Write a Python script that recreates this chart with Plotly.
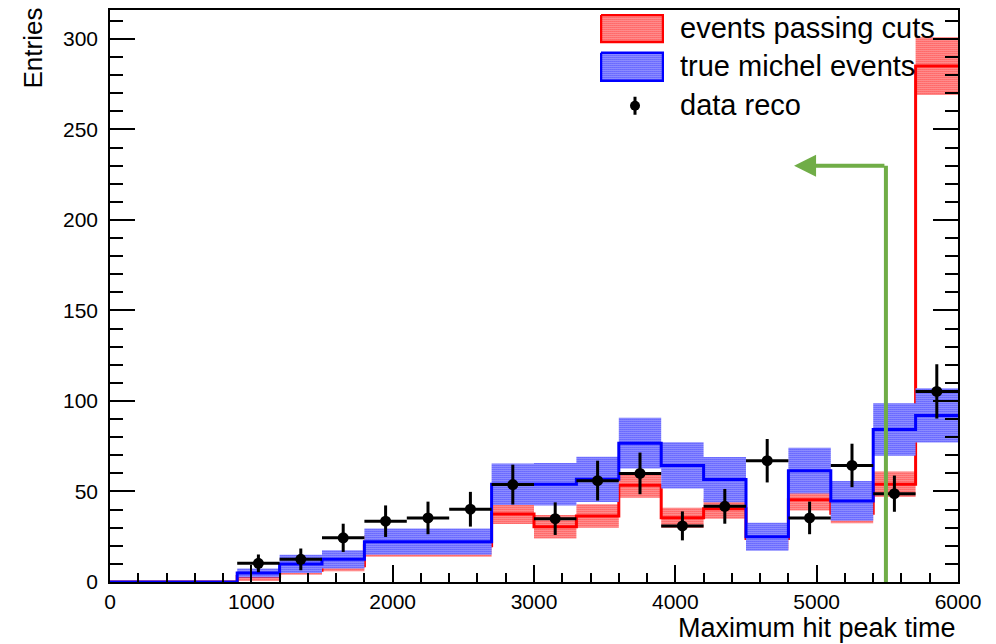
import plotly.graph_objects as go

# ---------------- data ----------------
bin_lo = [0, 300, 600, 900, 1200, 1500, 1800, 2100, 2400, 2700,
          3000, 3300, 3600, 3900, 4200, 4500, 4800, 5100, 5400, 5700]
bin_hi = [300, 600, 900, 1200, 1500, 1800, 2100, 2400, 2700, 3000,
          3300, 3600, 3900, 4200, 4500, 4800, 5100, 5400, 5700, 6000]

cuts_val = [0, 0, 0, 3, 6.5, 9, 20, 20, 20, 37.5,
            30.5, 36.5, 53.5, 35.5, 40.5, 24, 45.5, 38, 54, 285]
cuts_err = [0, 0, 0, 2.5, 2.5, 3, 6, 6, 6, 5.5,
            6.5, 6.5, 7, 5.5, 5.5, 6, 6, 5.5, 7, 16]

michel_val = [0, 0, 0, 5, 10, 12.5, 22.3, 22.3, 22.3, 54,
              54, 56.7, 76.7, 64.4, 56.6, 25, 61.5, 44.8, 84.3, 92]
michel_err = [0, 0, 0, 2.5, 5, 5, 7.3, 7.3, 7.3, 11.5,
              11.7, 12.5, 14, 12.8, 12.5, 7.8, 12.6, 11, 14.5, 15]

data_val = [None, None, None, 10.3, 12.5, 24.4, 33.6, 35.4, 40.2, 53.8,
            35, 56, 60, 31, 41.8, 67, 35.4, 64.4, 48.8, 105.3]
data_err = [None, None, None, 4.9, 6, 7.8, 8.7, 9, 9.6, 11,
            9, 11, 11.5, 8, 9.6, 12, 9, 12, 10, 15]

cut_value = 5490      # vertical cut line position
arrow_level = 230     # height of the arrow
arrow_tip = 4840      # where the arrow points

legend_labels = ["events passing cuts", "true michel events", "data reco"]

# ---------------- derived ----------------
centers = [(a + b) / 2 for a, b in zip(bin_lo, bin_hi)]
widths = [b - a for a, b in zip(bin_lo, bin_hi)]
half_w = [w / 2 for w in widths]
step_x = bin_lo + [bin_hi[-1]]

RED = "#ff0000"
BLUE = "#0000ff"
GREEN = "#70ad47"
FONT = "Liberation Sans, Arial, Helvetica, sans-serif"


def pattern(color):
    return dict(shape=".", fgcolor=color, bgcolor="white", size=2,
                solidity=0.6, fillmode="replace")


def band(vals, errs, color):
    xs, ys = [], []
    for lo, hi, v, e in zip(bin_lo, bin_hi, vals, errs):
        if e <= 0:
            continue
        xs += [lo, hi, hi, lo, lo, None]
        ys += [v - e, v - e, v + e, v + e, v - e, None]
    return go.Scatter(x=xs, y=ys, mode="none", fill="toself",
                      fillcolor="white", fillpattern=pattern(color),
                      showlegend=False, hoverinfo="skip")


def step(vals, color):
    return go.Scatter(x=step_x, y=vals + [vals[-1]], mode="lines",
                      line=dict(shape="hv", color=color, width=3),
                      showlegend=False, hoverinfo="skip")


fig = go.Figure()
fig.add_trace(band(cuts_val, cuts_err, RED))
fig.add_trace(step(cuts_val, RED))
fig.add_trace(band(michel_val, michel_err, BLUE))
fig.add_trace(step(michel_val, BLUE))
fig.add_trace(go.Scatter(
    x=centers, y=data_val, mode="markers",
    marker=dict(color="black", size=11),
    error_y=dict(type="data", array=data_err, color="black", thickness=3, width=0),
    error_x=dict(type="data", array=half_w, color="black", thickness=3, width=0),
    showlegend=False))

# ---------- legend built on a small helper axis (pixel-like units) ----------
for (y0, y1), col in zip([(1, 28), (39, 67)], [RED, BLUE]):
    fig.add_trace(go.Scatter(x=[1, 63, 63, 1, 1], y=[y0, y0, y1, y1, y0],
                             mode="lines", fill="toself", fillcolor="white",
                             fillpattern=pattern(col),
                             line=dict(color=col, width=2.5),
                             xaxis="x2", yaxis="y2", showlegend=False, hoverinfo="skip"))
fig.add_trace(go.Scatter(x=[35], y=[92], mode="markers", xaxis="x2", yaxis="y2",
                         marker=dict(color="black", size=10),
                         error_y=dict(type="constant", value=9, color="black",
                                      thickness=3, width=0),
                         showlegend=False, hoverinfo="skip"))

L, R, T, B = 110, 38, 8, 62
W, H = 996, 644
pw, ph = W - L - R, H - T - B


def px_x(p):
    return (p - L) / pw


def px_y(p):
    return (H - B - p) / ph


annotations = []
for lbl, py in zip(legend_labels, [26, 64, 103]):
    annotations.append(dict(text=lbl, x=px_x(678), y=px_y(py), xref="paper", yref="paper",
                            xanchor="left", yanchor="middle", showarrow=False,
                            font=dict(family=FONT, size=29, color="black")))
annotations.append(dict(text="Maximum hit peak time", x=1, y=px_y(628), xref="paper", yref="paper",
                        xanchor="right", yanchor="middle", showarrow=False,
                        font=dict(family=FONT, size=27, color="black")))
annotations.append(dict(text="Entries", x=px_x(33), y=px_y(4), xref="paper", yref="paper",
                        xanchor="center", yanchor="top", textangle=-90, showarrow=False,
                        font=dict(family=FONT, size=26, color="black")))
annotations.append(dict(text="", x=arrow_tip, y=arrow_level, ax=cut_value, ay=arrow_level,
                        xref="x", yref="y", axref="x", ayref="y", showarrow=True,
                        arrowhead=2, arrowsize=1.1, arrowwidth=4, arrowcolor=GREEN, standoff=0))

fig.add_shape(type="line", x0=cut_value, x1=cut_value, y0=0, y1=arrow_level,
              xref="x", yref="y", line=dict(color=GREEN, width=4))

fig.update_layout(
    width=W, height=H,
    margin=dict(l=L, r=R, t=T, b=B, pad=0),
    paper_bgcolor="white", plot_bgcolor="white",
    showlegend=False,
    font=dict(family=FONT, size=21, color="black"),
    annotations=annotations,
    xaxis=dict(range=[0, 6000], showgrid=False, zeroline=False,
               showline=True, linecolor="black", linewidth=1.5, mirror=True,
               ticks="inside", ticklen=17, tickwidth=1.5, tickcolor="black",
               tick0=0, dtick=1000, tickfont=dict(family=FONT, size=21),
               minor=dict(ticks="inside", ticklen=9, tickwidth=1.5, tickcolor="black", dtick=200)),
    yaxis=dict(range=[0, 316], showgrid=False, zeroline=False,
               showline=True, linecolor="black", linewidth=1.5, mirror="ticks",
               ticks="inside", ticklen=25, tickwidth=1.5, tickcolor="black",
               tick0=0, dtick=50, tickfont=dict(family=FONT, size=21), ticklabelstandoff=6,
               minor=dict(ticks="inside", ticklen=13, tickwidth=1.5, tickcolor="black", dtick=10)),
    xaxis2=dict(domain=[px_x(600), px_x(664)], range=[0, 64], visible=False,
                anchor="y2", fixedrange=True),
    yaxis2=dict(domain=[px_y(118), px_y(12)], range=[106, 0], visible=False,
                anchor="x2", fixedrange=True),
)

fig.write_html("out.html")
